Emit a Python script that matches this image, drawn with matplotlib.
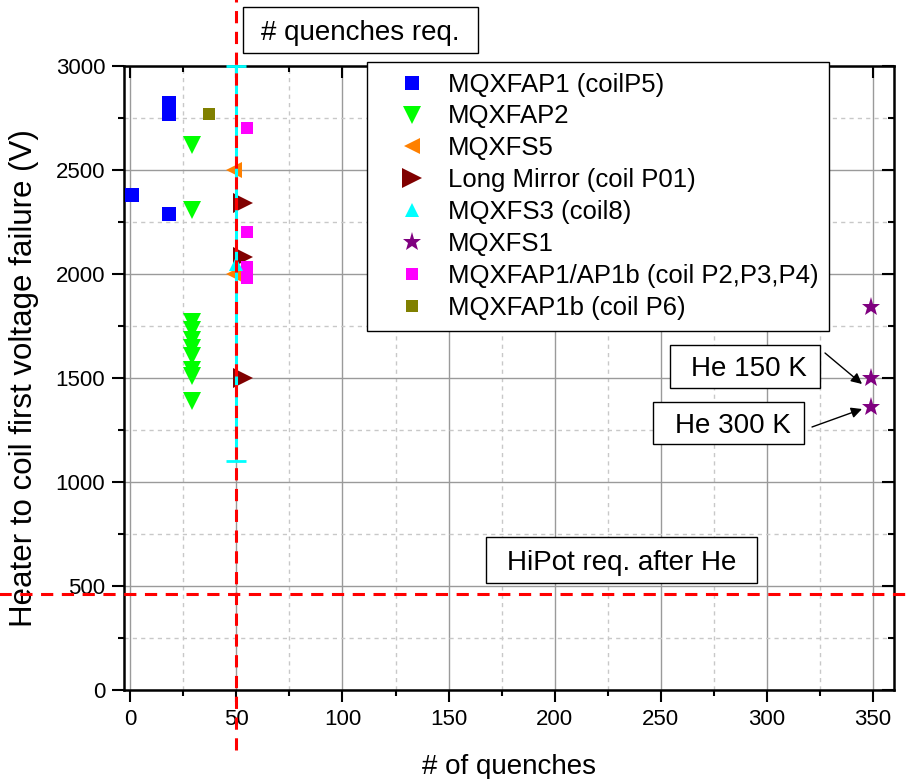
import matplotlib
matplotlib.use("Agg")
import matplotlib.pyplot as plt
from matplotlib.patches import Rectangle
from matplotlib.ticker import MultipleLocator

plt.rcParams['font.family'] = ['Liberation Sans', 'DejaVu Sans']

# Data
ap1_p5_x = [1, 18, 18, 18]
ap1_p5_y = [2380, 2820, 2770, 2290]

ap2_x = [29, 29, 29, 29, 29, 29, 29, 29, 29, 29]
ap2_y = [2620, 2310, 1770, 1730, 1685, 1645, 1605, 1540, 1510, 1390]

fs5_x = [49, 49]
fs5_y = [2500, 2000]

mirror_x = [53, 53, 53]
mirror_y = [2340, 2080, 1500]

fs3_x = [50]
fs3_y = [2050]
fs3_err = [950]

fs1_x = [349, 349, 349]
fs1_y = [1840, 1500, 1360]

ap1b_p234_x = [55, 55, 55, 55]
ap1b_p234_y = [2700, 2200, 2035, 1980]

ap1b_p6_x = [37]
ap1b_p6_y = [2770]

quench_req = 50
hipot_req = 460

W, H = 913, 779
fig = plt.figure(figsize=(W / 100, H / 100), dpi=100)
ax = fig.add_axes([124 / W, 1 - 690 / H, 770 / W, 624 / H])

def px(x, y):
  # image pixel (top-left origin) -> figure fraction
  return x / W, 1 - y / H

# markers
ax.plot(ap1_p5_x, ap1_p5_y, 's', color='#0000FF', ms=10, mew=0, label='MQXFAP1 (coilP5)', zorder=3)
ax.plot(ap2_x, ap2_y, 'v', color='#00FF00', ms=13.5, mew=0, label='MQXFAP2', zorder=3)
ax.plot(fs5_x, fs5_y, '<', color='#FF8000', ms=12, mew=0, label='MQXFS5', zorder=3)
ax.plot(mirror_x, mirror_y, '>', color='#800000', ms=15, mew=0, label='Long Mirror (coil P01)', zorder=3)
ax.plot(fs3_x, fs3_y, '^', color='#00FFFF', ms=10.5, mew=0, label='MQXFS3 (coil8)', zorder=4)
ax.plot(fs1_x, fs1_y, '*', color='#800080', ms=14, mew=0, label='MQXFS1', zorder=3)
ax.plot(ap1b_p234_x, ap1b_p234_y, 's', color='#FF00FF', ms=8, mew=0, label='MQXFAP1/AP1b (coil P2,P3,P4)', zorder=3)
ax.plot(ap1b_p6_x, ap1b_p6_y, 's', color='#808000', ms=9, mew=0, label='MQXFAP1b (coil P6)', zorder=3)

ax.errorbar(fs3_x, fs3_y, yerr=fs3_err, fmt='none', ecolor='#00FFFF', elinewidth=2.2,
            capsize=7, capthick=2, zorder=4, clip_on=False)

# requirement lines (run past the axes like in the original)
ax.plot([quench_req, quench_req], [-290, 3320], color='#FF0000', lw=2.2, ls=(0, (4, 2.8)),
        zorder=5, clip_on=False)
ax.plot([-62, 370], [hipot_req, hipot_req], color='#FF0000', lw=2.2, ls=(0, (4, 2.8)),
        zorder=5, clip_on=False)

ax.set_xlim(-3, 360)
ax.set_ylim(0, 3000)
ax.xaxis.set_major_locator(MultipleLocator(50))
ax.xaxis.set_minor_locator(MultipleLocator(25))
ax.yaxis.set_major_locator(MultipleLocator(500))
ax.yaxis.set_minor_locator(MultipleLocator(250))

ax.grid(which='major', color='#9a9a9a', lw=1, ls='-', zorder=0)
ax.grid(which='minor', color='#c8c8c8', lw=1, ls=(0, (3, 3)), zorder=0)
ax.set_axisbelow(True)

for s in ax.spines.values():
  s.set_linewidth(1.8)
ax.tick_params(which='both', width=1.5, labelsize=16, pad=5, direction='out', top=True, right=True)
ax.tick_params(which='major', length=8.5)
ax.tick_params(which='minor', length=4)
# top/right ticks point inward
for t in ax.xaxis.get_major_ticks() + ax.xaxis.get_minor_ticks():
  t.tick2line.set_marker(3)
for t in ax.yaxis.get_major_ticks() + ax.yaxis.get_minor_ticks():
  t.tick2line.set_marker(0)

ax.set_xlabel('# of quenches', fontsize=20)
ax.set_ylabel('Heater to coil first voltage failure (V)', fontsize=22.5)
ax.xaxis.set_label_coords(0.5, -0.103)
ax.yaxis.set_label_coords(-0.110, 0.5)

leg = ax.legend(loc='upper left', bbox_to_anchor=px(367, 62), bbox_transform=fig.transFigure,
                fontsize=18.5, frameon=True, fancybox=False, framealpha=1, edgecolor='black',
                borderpad=0.41, handlelength=2.68, handletextpad=0.06, labelspacing=0.31,
                borderaxespad=0, numpoints=1)
leg.get_frame().set_linewidth(1)
leg.set_zorder(6)

# boxed notes
def note(x0, y0, x1, y1, text, tx=None):
  a = px(x0, y1)
  b = px(x1, y0)
  fig.patches.append(Rectangle(a, b[0] - a[0], b[1] - a[1], transform=fig.transFigure,
                               facecolor='white', edgecolor='black', lw=1, zorder=7))
  cx = (x0 + x1) / 2 if tx is None else tx
  fig.text(*px(cx, (y0 + y1) / 2), text, fontsize=20, ha='center', va='center_baseline', zorder=8)

note(243, 7, 478, 53, '# quenches req.')
note(486, 537, 757, 583, 'HiPot req. after He')
note(670, 345, 820, 388, 'He 150 K', tx=749)
note(653, 402, 804, 444, 'He 300 K', tx=733)

arrow = dict(arrowstyle='-|>', color='black', lw=1, mutation_scale=16, shrinkA=0, shrinkB=0)
ax.annotate('', xy=(862, H - 384), xycoords='figure pixels', xytext=(825, H - 353),
            textcoords='figure pixels', arrowprops=arrow, annotation_clip=False)
ax.annotate('', xy=(862, H - 409), xycoords='figure pixels', xytext=(812, H - 427),
            textcoords='figure pixels', arrowprops=arrow, annotation_clip=False)

fig.savefig('out.png', dpi=100)
